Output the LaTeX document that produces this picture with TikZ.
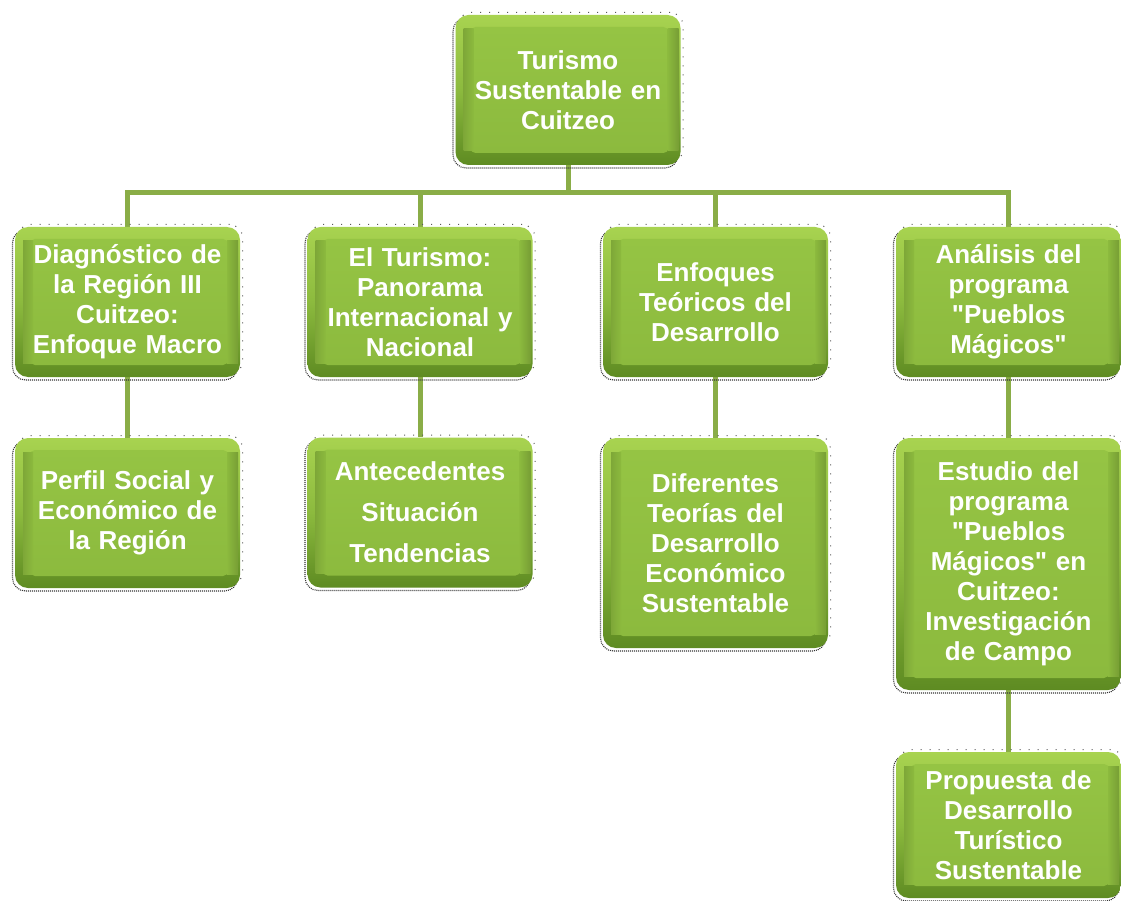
\documentclass[tikz,border=0pt]{standalone}
\usepackage{fontspec}
\setmainfont{Liberation Sans}[Ligatures=TeXOff]
\usetikzlibrary{backgrounds,calc}
\definecolor{face}{HTML}{8CBA3E}
\definecolor{facetop}{HTML}{95C444}
\definecolor{rimtop}{HTML}{A8D350}
\definecolor{rimbot}{HTML}{5E8B22}
\definecolor{hl}{HTML}{DDF396}
\definecolor{link}{HTML}{8AAD47}
\tikzset{
  gbox/.style={minimum width=225pt, minimum height=#1, inner sep=0pt,
    text width=215pt, align=center, text=white,
    font=\bfseries\fontsize{26}{30}\selectfont,
    rounded corners=13pt, top color=rimtop, bottom color=rimbot, middle color=face,
    preaction={draw=black!80, line width=1.1pt, dash pattern=on 1pt off 1pt,
      transform canvas={shift={(-2.5pt,-3pt)}}},
    preaction={draw=black!65, line width=1pt, dash pattern=on 1pt off 8pt,
      transform canvas={shift={(2.5pt,2.5pt)}}},
    path picture={
      \coordinate (ppsw) at (path picture bounding box.south west);
      \coordinate (ppne) at (path picture bounding box.north east);
      \shade[top color=facetop, bottom color=face, rounded corners=5pt]
        ($(ppsw)+(15pt,12pt)$) rectangle ($(ppne)+(-12pt,-12pt)$);
      \shade[sharp corners, left color=face!90!black, middle color=hl, right color=face]
        ($(ppsw)+(8pt,14pt)$) rectangle ($(ppsw|-ppne)+(18pt,-14pt)$);
      \shade[sharp corners, left color=face, middle color=hl, right color=face!85!black]
        ($(ppne|-ppsw)+(-13pt,14pt)$) rectangle ($(ppne)+(-2pt,-14pt)$);
    }},
  conn/.style={draw=link, line width=5pt}
}
\begin{document}
\begin{tikzpicture}[x=1pt,y=-1pt]
\useasboundingbox (0,0) rectangle (1121,901);
\node[gbox=150pt] (A) at (568,90) {Turismo\\Sustentable en\\Cuitzeo};
\node[gbox=150pt] (B1) at (127.5,302) {Diagnóstico de\\la Región III\\Cuitzeo:\\Enfoque Macro};
\node[gbox=150pt] (B2) at (420,302) {El Turismo:\\Panorama\\Internacional y\\Nacional};
\node[gbox=150pt] (B3) at (715.5,302) {Enfoques\\Teóricos del\\Desarrollo};
\node[gbox=150pt] (B4) at (1008.5,302) {Análisis del\\programa\\"Pueblos\\Mágicos"};
\node[gbox=150pt] (C1) at (127.5,513) {Perfil Social y\\Económico de\\la Región};
\node[gbox=150pt] (C2) at (420,512.5) {Antecedentes\\[11pt]Situación\\[11pt]Tendencias};
\node[gbox=210pt] (C3) at (715.5,543) {Diferentes\\Teorías del\\Desarrollo\\Económico\\Sustentable};
\node[gbox=252pt] (C4) at (1008.5,564) {Estudio del\\programa\\"Pueblos\\Mágicos" en\\Cuitzeo:\\Investigación\\de Campo};
\node[gbox=146pt] (D4) at (1008.5,825) {Propuesta de\\Desarrollo\\Turístico\\Sustentable};
\coordinate (J) at (568,193);
\begin{scope}[on background layer]
\fill[white] (0,0) rectangle (1121,901);
\draw[conn] (A.south) -- (J);
\draw[conn] (J) -| (B1.north);
\draw[conn] (J) -| (B2.north);
\draw[conn] (J) -| (B3.north);
\draw[conn] (J) -| (B4.north);
\draw[conn] (B1.south) -- (C1.north);
\draw[conn] (B2.south) -- (C2.north);
\draw[conn] (B3.south) -- (C3.north);
\draw[conn] (B4.south) -- (C4.north);
\draw[conn] (C4.south) -- (D4.north);
\end{scope}
\end{tikzpicture}
\end{document}
